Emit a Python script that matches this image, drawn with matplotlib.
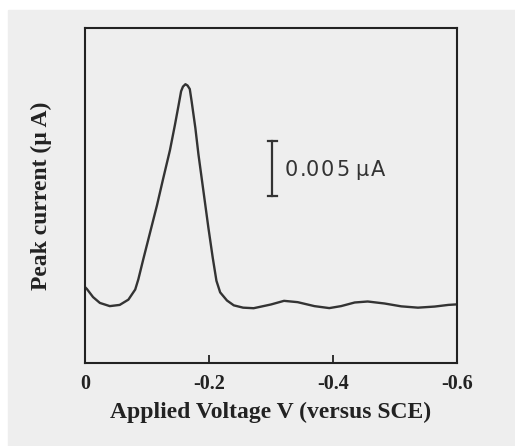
import matplotlib
matplotlib.use("Agg")
import matplotlib.pyplot as plt
from matplotlib.patches import Rectangle

# voltammogram (V versus SCE, current in uA above axis bottom)
voltage = [0.0, -0.003, -0.013, -0.024, -0.040, -0.056, -0.070, -0.081, -0.086,
           -0.094, -0.105, -0.116, -0.126, -0.137, -0.145, -0.151, -0.155, -0.158, -0.162,
           -0.1654, -0.169, -0.172, -0.178, -0.183, -0.191, -0.199, -0.206, -0.212, -0.218,
           -0.229, -0.240, -0.255, -0.272, -0.300, -0.321, -0.343, -0.370, -0.394,
           -0.413, -0.435, -0.456, -0.483, -0.510, -0.537, -0.564, -0.586, -0.600]
current = [0.0069, 0.00673, 0.00599, 0.00546, 0.00517, 0.00528, 0.00576, 0.00668, 0.0076,
           0.00943, 0.01187, 0.01431, 0.01674, 0.01934, 0.02163, 0.02345, 0.02470, 0.02512, 0.02534,
           0.02522, 0.02490, 0.02378, 0.02136, 0.01895, 0.01563, 0.0123, 0.00958, 0.00747, 0.00642,
           0.00568, 0.00524, 0.00503, 0.00498, 0.00532, 0.00565, 0.00553, 0.00517, 0.00499,
           0.00517, 0.0055, 0.00559, 0.00541, 0.00515, 0.00503, 0.00513, 0.00528, 0.00533]
xticks = [0, -0.2, -0.4, -0.6]
xtick_labels = ["0", "-0.2", "-0.4", "-0.6"]
bar_value = 0.005
bar_label = "0.005\u00b5A"

W, H = 515, 446
fig = plt.figure(figsize=(W / 100, H / 100), dpi=100, facecolor="white")

# scanned page tone
fig.patches.append(Rectangle((8 / W, 0), 1, 1 - 10 / H,
                             transform=fig.transFigure, color="#eeeeee", zorder=-10))

ax = fig.add_axes([85 / W, 1 - 363 / H, (457 - 85) / W, (363 - 28) / H])
ax.set_facecolor("none")
ax.plot(voltage, current, color="#333333", lw=1.7, solid_joinstyle="round",
        solid_capstyle="round")
ax.set_xlim(0, -0.6)
ax.set_ylim(0, 0.03045)
for s in ax.spines.values():
    s.set_linewidth(1.5)
    s.set_color("#222222")

serif = ["Liberation Serif", "DejaVu Serif"]
ax.set_xticks(xticks)
ax.set_xticklabels(xtick_labels, fontfamily=serif, fontweight="bold", fontsize=14.5)
ax.tick_params(axis="x", direction="in", length=6, width=1.3, pad=8, colors="#222222")
ax.set_yticks([])
ax.set_xlabel("Applied Voltage V (versus SCE)", fontfamily=serif, fontweight="bold",
              fontsize=17, color="#222222", va="center")
ax.xaxis.set_label_coords(0.5, -0.146)
ax.set_ylabel("Peak current (\u00b5 A)", fontfamily=serif, fontweight="bold",
              fontsize=17, color="#222222", va="center")
ax.yaxis.set_label_coords(-0.116, 0.5)

# scale bar
bx = -0.302
ytop = 0.0202
ax.plot([bx, bx], [ytop, ytop - bar_value], color="#333333", lw=1.6)
ax.plot([bx - 0.007, bx + 0.007], [ytop, ytop], color="#333333", lw=1.6)
ax.plot([bx - 0.007, bx + 0.007], [ytop - bar_value, ytop - bar_value], color="#333333", lw=1.6)

# letter-spaced label beside the bar
char_x = [285, 300, 306, 321, 336, 355, 371]
for ch, px in zip(bar_label, char_x):
    fig.text(px / W, 1 - 170 / H, ch, fontsize=15, color="#333333",
             family="DejaVu Sans", va="center", ha="left")

fig.savefig("out.png", dpi=100, facecolor=fig.get_facecolor())
